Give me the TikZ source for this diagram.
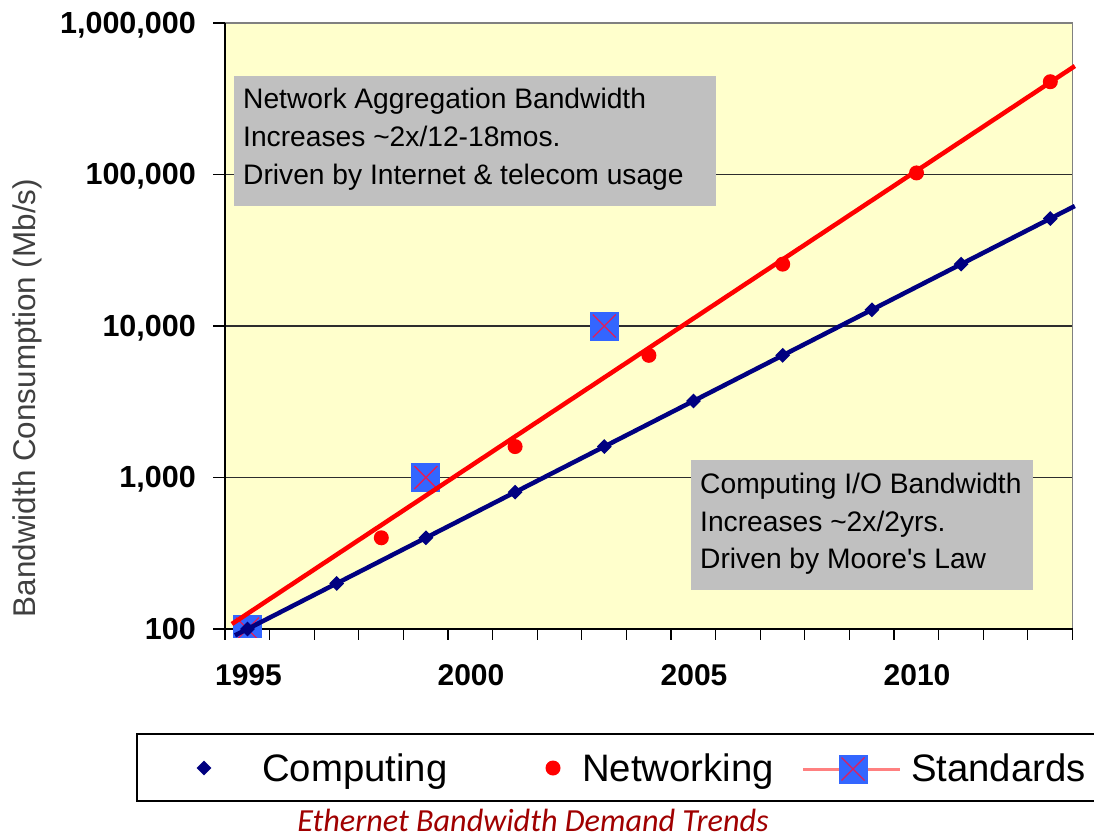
\documentclass[tikz,border=0pt]{standalone}
\usepackage{fontspec}
\setmainfont{Liberation Sans}
\newfontfamily\capfont{Carlito}
\usetikzlibrary{shapes.geometric}

\definecolor{plotbg}{RGB}{255,255,204}
\definecolor{compnavy}{RGB}{0,0,128}
\definecolor{netred}{RGB}{255,0,0}
\definecolor{stdblue}{RGB}{51,102,255}
\definecolor{stdcross}{RGB}{225,30,90}
\definecolor{stdline}{RGB}{255,128,128}
\definecolor{notegray}{RGB}{192,192,192}
\definecolor{capred}{RGB}{160,0,0}
\definecolor{gridgray}{RGB}{45,45,45}
\definecolor{framegray}{RGB}{128,128,128}
\definecolor{titlegray}{RGB}{64,64,64}

\tikzset{
  % data coordinates: x = years after 1995, y = decades above 100 Mb/s
  data/.style={shift={(247.5,629)}, x=44.6pt, y=151.5pt},
  gridln/.style={draw=gridgray, line width=1.5pt},
  axisln/.style={draw=black, line width=1.6pt},
  tickln/.style={draw=black, line width=1.3pt},
  ylab/.style={anchor=base east, inner sep=0, font=\fontsize{30.5}{36}\selectfont\bfseries},
  xlab/.style={anchor=base, inner sep=0, font=\fontsize{30}{36}\selectfont\bfseries},
  notebox/.style={fill=notegray, draw=none, inner sep=0},
  notetext/.style={anchor=base west, inner sep=0, font=\fontsize{28.2}{34}\selectfont},
  legtext/.style={anchor=base west, inner sep=0, font=\fontsize{38.3}{44}\selectfont},
  compmark/.style={diamond, fill=compnavy, inner sep=0, minimum size=15pt},
  netmark/.style={circle, fill=netred, inner sep=0, minimum size=15pt},
  stdmark/.style={rectangle, fill=stdblue, inner sep=0, minimum size=29pt,
    path picture={
      \draw[stdcross, line width=1.3pt]
        ([shift={(3pt,3pt)}]path picture bounding box.south west) --
        ([shift={(-3pt,-3pt)}]path picture bounding box.north east)
        ([shift={(3pt,-3pt)}]path picture bounding box.north west) --
        ([shift={(-3pt,3pt)}]path picture bounding box.south east);
    }},
  compline/.style={draw=compnavy, line width=4.5pt},
  netline/.style={draw=netred, line width=4.5pt},
}

\begin{document}
\begin{tikzpicture}[x=1pt, y=-1pt]
\useasboundingbox (0,0) rectangle (1094,837);
\fill[white] (0,0) rectangle (1094,837);

% plot area and horizontal grid
\begin{scope}[data]
  \fill[plotbg] (-0.5045,0) rectangle (18.5,4);
  \foreach \d in {1,2,3}
    \draw[gridln] (-0.5045,\d) -- (18.5,\d);
  \draw[framegray, line width=1.2pt] (-0.5045,4) -- (18.5,4) -- (18.5,0);
\end{scope}

% annotation boxes
\node[notebox, anchor=north west, minimum width=482pt, minimum height=130pt] (netbox) at (234,76) {};
\node[notetext] (net1) at (243,109) {Network Aggregation Bandwidth};
\node[notetext] (net2) at (243,147) {Increases \textasciitilde2x/12-18mos.};
\node[notetext] (net3) at (243,185) {Driven by Internet \& telecom usage};

\node[notebox, anchor=north west, minimum width=342pt, minimum height=130pt] (compbox) at (691,460) {};
\node[notetext] (comp1) at (700,493) {Computing I/O Bandwidth};
\node[notetext] (comp2) at (700,531) {Increases \textasciitilde2x/2yrs.};
\node[notetext] (comp3) at (700,568) {Driven by Moore\textquotesingle s Law};

% axes and ticks
\begin{scope}[data]
  \draw[axisln] (-0.5045,4) -- (-0.5045,0) -- (18.5,0);
  \foreach \d in {0,1,2,3,4}
    \draw[tickln] (-0.5045,\d) -- ++(-12pt,0);
  \foreach \k in {0,...,19}
    \draw[tickln] ({\k-0.5045},0) -- ++(0,-11pt);
\end{scope}

% axis labels
\node[ylab] (y6) at (196,33.9) {1,000,000};
\node[ylab] (y5) at (196,184.9) {100,000};
\node[ylab] (y4) at (196,336.9) {10,000};
\node[ylab] (y3) at (196,487.9) {1,000};
\node[ylab] (y2) at (196,639.9) {100};

\node[xlab] (x1995) at (248.5,685) {1995};
\node[xlab] (x2000) at (471,685) {2000};
\node[xlab] (x2005) at (694,685) {2005};
\node[xlab] (x2010) at (917,685) {2010};

\node[rotate=90, text=titlegray, inner sep=0, font=\fontsize{31.4}{37}\selectfont] (ytitle) at (27,398) {Bandwidth Consumption (Mb/s)};

% standards markers (clipped just under the axis)
\begin{scope}
  \clip (200,0) rectangle (1094,637);
  \begin{scope}[data]
    \node[stdmark] (s0) at (0,0) {};
    \node[stdmark] (s1) at (4,1) {};
    \node[stdmark] (s2) at (8,2) {};
  \end{scope}
\end{scope}

% trend lines and data markers
\begin{scope}[data]
  \coordinate (ca) at (-0.28,-0.042);
  \coordinate (cb) at (18.55,2.792);
  \coordinate (na) at (-0.35,0.033);
  \coordinate (nb) at (18.55,3.716);
  \draw[netline] (na) -- (nb);
  \draw[compline] (ca) -- (cb);
  \foreach \k in {0,...,9}
    \node[compmark] (c\k) at ({2*\k},{0.30103*\k}) {};
  \foreach \k in {0,...,5}
    \node[netmark] (n\k) at ({3+3*\k},{0.60206*(\k+1)}) {};
\end{scope}

% legend
\draw[black, line width=1.5pt] (1110,734) -- (137,734) -- (137,801) -- (1110,801);
\node[compmark] (lcomp) at (204,768) {};
\node[legtext] (lcompt) at (262,781.6) {Computing};
\node[netmark] (lnet) at (553,768) {};
\node[legtext] (lnett) at (582,781.6) {Networking};
\coordinate (lsa) at (803,769);
\coordinate (lsb) at (900,769);
\draw[stdline, line width=3pt] (lsa) -- (lsb);
\node[stdmark] (lstd) at (853,769) {};
\node[legtext] (lstdt) at (911,781.6) {Standards};

% caption
\node[anchor=base, inner sep=0, text=capred, font=\capfont\itshape\fontsize{32.2}{37}\selectfont] (caption) at (533,831) {Ethernet Bandwidth Demand Trends};
\end{tikzpicture}
\end{document}
